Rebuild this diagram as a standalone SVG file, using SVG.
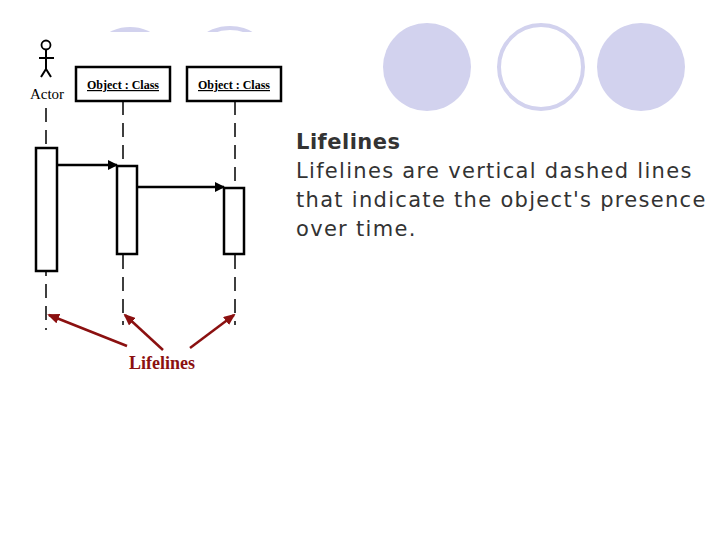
<svg xmlns="http://www.w3.org/2000/svg" width="720" height="540" viewBox="0 0 720 540">
<defs>
<marker id="ah" markerWidth="10" markerHeight="10" refX="9" refY="5" orient="auto" markerUnits="userSpaceOnUse"><path d="M0,0 L10,5 L0,10 z" fill="#000"/></marker>
<marker id="rh" markerWidth="12" markerHeight="10" refX="10" refY="5" orient="auto" markerUnits="userSpaceOnUse"><path d="M0,0 L12,5 L0,10 z" fill="#8b1010"/></marker>
</defs>
<style>
.bg{fill:#d2d2ee}
.ll{stroke:#000;stroke-width:1.5;stroke-dasharray:14,8;fill:none}
.box{fill:#fff;stroke:#000;stroke-width:2.5}
.act{fill:#fff;stroke:#000;stroke-width:2.5}
.msg{stroke:#000;stroke-width:2.5;marker-end:url(#ah)}
.red{stroke:#8b1010;stroke-width:2.5;marker-end:url(#rh)}
.cls{font-family:"Liberation Serif",serif;font-weight:bold;font-size:12px;text-decoration:underline}
</style>
<rect width="720" height="540" fill="#fff"/>
<circle class="bg" cx="130" cy="72" r="45"/>
<circle cx="230" cy="72" r="44" fill="#fff" stroke="#d2d2ee" stroke-width="4"/>
<circle class="bg" cx="427" cy="67" r="44"/>
<circle cx="541" cy="67" r="42" fill="#fff" stroke="#d2d2ee" stroke-width="4"/>
<circle class="bg" cx="641" cy="67" r="44"/>
<rect x="0" y="32" width="292" height="360" fill="#fff"/>
<g id="actor">
<circle cx="46" cy="45" r="4.5" fill="none" stroke="#000" stroke-width="1.8"/>
<path d="M46,50 V69 M39,58 H54 M46,69 L41,77 M46,69 L51,77" stroke="#000" stroke-width="2" fill="none"/>
<text x="47" y="99" text-anchor="middle" font-family="Liberation Serif,serif" font-size="15">Actor</text>
</g>
<g id="obj1"><rect class="box" x="76" y="67" width="94" height="34"/><text class="cls" x="123" y="89" text-anchor="middle">Object : Class</text></g>
<g id="obj2"><rect class="box" x="187" y="67" width="94" height="34"/><text class="cls" x="234" y="89" text-anchor="middle">Object : Class</text></g>
<g id="connectors">
<line class="ll" x1="46" y1="108" x2="46" y2="330"/>
<line class="ll" x1="123" y1="101" x2="123" y2="325"/>
<line class="ll" x1="235" y1="101" x2="235" y2="325"/>
<line class="msg" x1="57" y1="165" x2="117" y2="165"/>
<line class="msg" x1="137" y1="187" x2="224" y2="187"/>
<line class="red" x1="127" y1="346" x2="49" y2="315"/>
<line class="red" x1="163" y1="350" x2="125" y2="315"/>
<line class="red" x1="190" y1="348" x2="234" y2="315"/>
</g>
<g id="activations">
<rect class="act" x="36" y="148" width="21" height="123"/>
<rect class="act" x="117" y="166" width="20" height="88"/>
<rect class="act" x="224" y="188" width="20" height="66"/>
</g>
<text id="lbl" x="162" y="369" text-anchor="middle" font-family="Liberation Serif,serif" font-weight="bold" font-size="18" fill="#8b1010">Lifelines</text>
<g id="desc" font-family="'DejaVu Sans',sans-serif" font-size="21" fill="#333" letter-spacing="1.3">
<text x="296" y="149" font-weight="bold" letter-spacing="0.5">Lifelines</text>
<text x="296" y="178">Lifelines are vertical dashed lines</text>
<text x="296" y="207">that indicate the object's presence</text>
<text x="296" y="236">over time.</text>
</g>
</svg>
